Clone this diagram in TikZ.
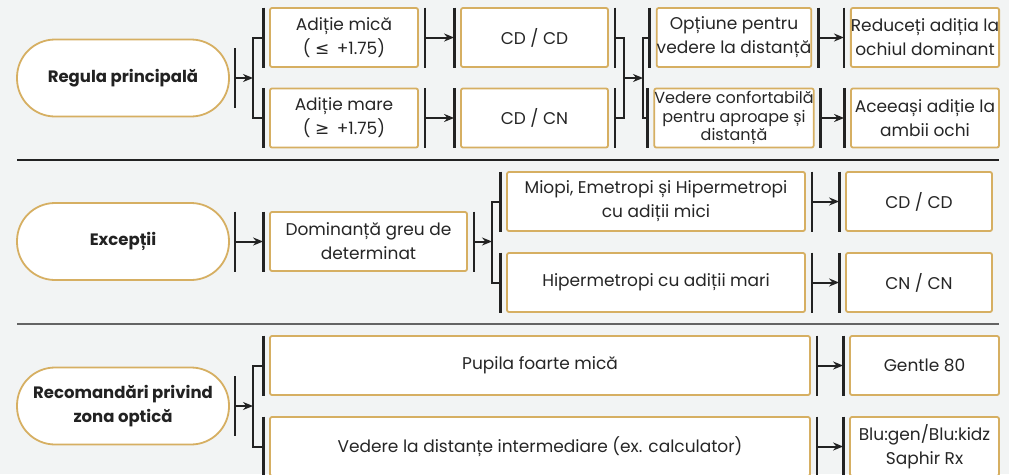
\documentclass[tikz,border=0pt]{standalone}
\usepackage{fontspec}
\setmainfont{Poppins}
\newfontfamily\symfont{DejaVu Sans}
\usetikzlibrary{
    arrows.meta,
    calc,
    positioning
}
\definecolor{bgpage}{RGB}{242,244,244}
\definecolor{gold}{RGB}{214,175,98}
\definecolor{ink}{RGB}{34,34,34}
\definecolor{txt}{RGB}{38,38,38}
\tikzset{
    box/.style={draw=gold, line width=1.8pt, fill=white, rounded corners=2pt,
        minimum height=59pt, inner sep=0pt, align=center, text=txt,
        font=\fontsize{17}{24}\selectfont},
    pill/.style={draw=gold, line width=1.8pt, fill=white, rounded corners=38pt,
        minimum width=212pt, minimum height=77pt, inner sep=0pt, align=center,
        text=ink, font=\fontsize{16.5}{24}\selectfont\bfseries},
    bar/.style={draw=ink, line width=2.8pt},
    link/.style={draw=ink, line width=2pt},
    arr/.style={link, -{Stealth[length=10pt,width=8pt]}},
    sep/.style={line width=1.4pt}
}

\begin{document}
\begin{tikzpicture}[x=1pt, y=-1pt]
    \useasboundingbox (0, 0) rectangle (1009, 474);
    \clip (0, 0) rectangle (1009, 474);
    \fill[bgpage] (0, 0) rectangle (1009, 474);

    % regula principala
    \node[pill] (pill1) at (123, 78) {Regula principală};
    \node[box, minimum width=148pt] (a1) at (344, 37.5) {Adiție mică\\( {\symfont ≤}\, +1.75)};
    \node[box, minimum width=148pt] (a2) at (344, 118) {Adiție mare\\( {\symfont ≥}\, +1.75)};
    \node[box, minimum width=147pt] (c1) at (534.5, 37.5) {CD / CD};
    \node[box, minimum width=147pt] (c2) at (534.5, 118) {CD / CN};
    \node[box, minimum width=148pt] (o1) at (734, 37.5) {Opțiune pentru\\vedere la distanță};
    \node[box, minimum width=148pt, font=\fontsize{16}{18.5}\selectfont] (o2) at (734, 118)
        {Vedere confortabilă\\pentru aproape și\\distanță};
    \node[box, minimum width=148pt] (r1) at (925, 37.5) {Reduceți adiția la\\ochiul dominant};
    \node[box, minimum width=148pt] (r2) at (925, 118) {Aceeași adiție la\\ambii ochi};
    \coordinate (k1) at (253, 78);
    \coordinate (j1) at (624, 78);
    \coordinate (k2) at (643, 78);

    % exceptii
    \node[pill] (pill2) at (123, 241.5) {Excepții};
    \node[box, minimum width=197pt] (d) at (368.5, 241.5) {Dominanță greu de\\determinat};
    \node[box, minimum width=298pt] (m1) at (656, 201.5) {Miopi, Emetropi și Hipermetropi\\cu adiții mici};
    \node[box, minimum width=298pt] (m2) at (656, 282.5) {Hipermetropi cu adiții mari};
    \node[box, minimum width=146pt] (e1) at (919, 201.5) {CD / CD};
    \node[box, minimum width=146pt] (e2) at (919, 282.5) {CN / CN};
    \coordinate (k3) at (492, 241.5);

    % zona optica
    \node[pill] (pill3) at (123, 406) {Recomandări privind\\zona optică};
    \node[box, minimum width=540pt] (p1) at (540, 365.5) {Pupila foarte mică};
    \node[box, minimum width=540pt] (p2) at (540, 446.5) {Vedere la distanțe intermediare (ex. calculator)};
    \node[box, minimum width=149pt] (g1) at (924.5, 365.5) {Gentle 80};
    \node[box, minimum width=149pt] (g2) at (924.5, 446.5) {Blu:gen/Blu:kidz\\Saphir Rx};
    \coordinate (k4) at (253, 406);

    \draw[sep, ink] (17, 160) -- (999, 160);
    \draw[sep, ink!70] (17, 324) -- (999, 324);

    % bars
    \foreach \n in {pill1, pill2, pill3} {
        \draw[bar] ([xshift=5pt, yshift=30pt]\n.east) -- ([xshift=5pt, yshift=-30pt]\n.east);
    }
    \foreach \n in {a1, a2, c1, c2, o1, o2, d, m1, m2, p1, p2} {
        \draw[bar] ([xshift=6pt, yshift=30pt]\n.east) -- ([xshift=6pt, yshift=-30pt]\n.east);
    }
    \foreach \n in {a1, a2, c1, c2, o1, o2, r1, r2, d, m1, m2, e1, e2, p1, p2, g1, g2} {
        \draw[bar] ([xshift=-6pt, yshift=30pt]\n.west) -- ([xshift=-6pt, yshift=-30pt]\n.west);
    }

    % connectors
    \draw[arr] ([xshift=5pt]pill1.east) -- (k1);
    \draw[link] ([xshift=-6pt]a1.west) -| (k1) |- ([xshift=-6pt]a2.west);
    \draw[arr] ([xshift=6pt]a1.east) -- ([xshift=-6pt]c1.west);
    \draw[arr] ([xshift=6pt]a2.east) -- ([xshift=-6pt]c2.west);
    \draw[link] ([xshift=6pt]c1.east) -| (j1) |- ([xshift=6pt]c2.east);
    \draw[arr] (j1) -- (k2);
    \draw[link] ([xshift=-6pt]o1.west) -| (k2) |- ([xshift=-6pt]o2.west);
    \draw[arr] ([xshift=6pt]o1.east) -- ([xshift=-6pt]r1.west);
    \draw[arr] ([xshift=6pt]o2.east) -- ([xshift=-6pt]r2.west);

    \draw[arr] ([xshift=5pt]pill2.east) -- ([xshift=-6pt]d.west);
    \draw[arr] ([xshift=6pt]d.east) -- (k3);
    \draw[link] ([xshift=-6pt]m1.west) -| (k3) |- ([xshift=-6pt]m2.west);
    \draw[arr] ([xshift=6pt]m1.east) -- ([xshift=-6pt]e1.west);
    \draw[arr] ([xshift=6pt]m2.east) -- ([xshift=-6pt]e2.west);

    \draw[arr] ([xshift=5pt]pill3.east) -- (k4);
    \draw[link] ([xshift=-6pt]p1.west) -| (k4) |- ([xshift=-6pt]p2.west);
    \draw[arr] ([xshift=6pt]p1.east) -- ([xshift=-6pt]g1.west);
    \draw[arr] ([xshift=6pt]p2.east) -- ([xshift=-6pt]g2.west);
\end{tikzpicture}
\end{document}
